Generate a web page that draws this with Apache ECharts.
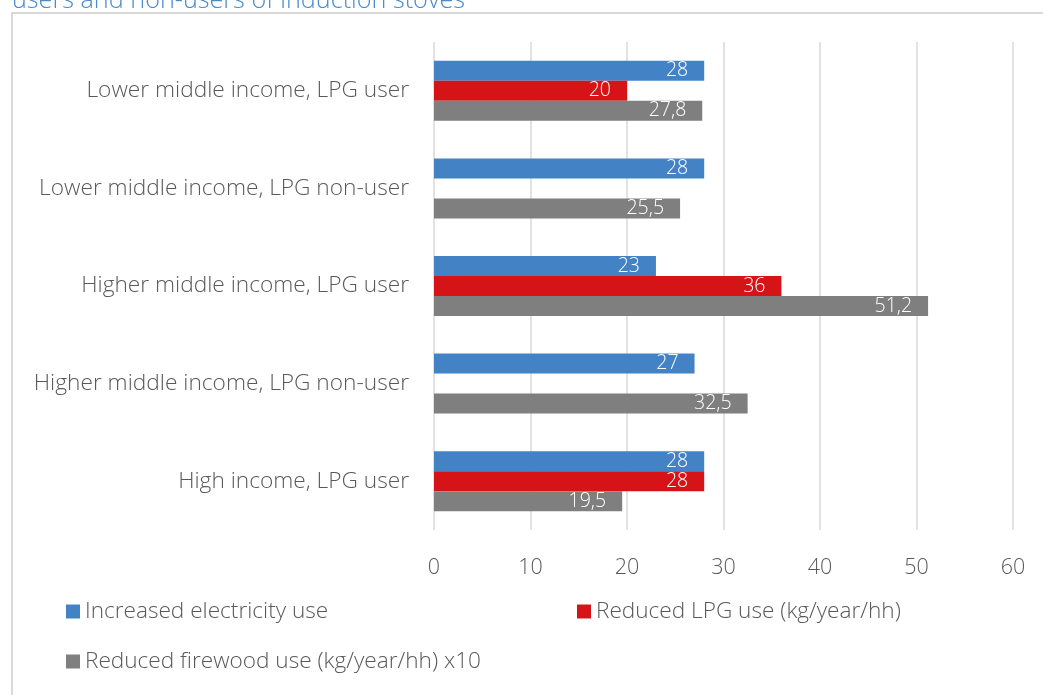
<!DOCTYPE html>
<html>
<head>
<meta charset="utf-8">
<script src="https://cdn.jsdelivr.net/npm/echarts@6/dist/echarts.min.js"></script>
<style>
html,body{margin:0;padding:0;background:#fff;}
#chart{width:1043px;height:695px;}
</style>
</head>
<body>
<div id="chart"></div>
<script>
var titleText = 'users and non-users of induction stoves';
var categories = [
  'Lower middle income, LPG user',
  'Lower middle income, LPG non-user',
  'Higher middle income, LPG user',
  'Higher middle income, LPG non-user',
  'High income, LPG user'
];
var seriesNames = [
  'Increased electricity use',
  'Reduced LPG use (kg/year/hh)',
  'Reduced firewood use (kg/year/hh) x10'
];
var electricity = [28, 28, 23, 27, 28];
var lpg = [20, null, 36, null, 28];
var firewood = [27.8, 25.5, 51.2, 32.5, 19.5];
var xTicks = [0, 60, 10];

var FONT = '"Open Sans", "Segoe UI", sans-serif';
var TXT = '#595959';
var colors = ['#4383c5', '#d61317', '#7f7f7f'];

function fmt(p) { return String(p.value).replace('.', ','); }

function makeSeries(name, data, color) {
  return {
    name: name,
    type: 'bar',
    data: data,
    barWidth: 20,
    barGap: '0%',
    itemStyle: { color: color },
    label: {
      show: true,
      position: 'insideRight',
      distance: 16,
      color: '#fff',
      fontFamily: FONT,
      fontWeight: 300,
      fontSize: 19.5,
      formatter: fmt
    }
  };
}

var legendText = { fontSize: 22.6, color: TXT, fontFamily: FONT, fontWeight: 300 };

var chart = echarts.init(document.getElementById('chart'));
chart.setOption({
  animation: false,
  color: colors,
  textStyle: { fontFamily: FONT },
  graphic: [
    {
      type: 'rect',
      shape: { x: 12, y: 13, width: 1100, height: 800 },
      style: { fill: 'none', stroke: '#d9d9d9', lineWidth: 2 },
      silent: true
    },
    {
      type: 'text',
      x: 12, y: 13,
      style: {
        text: titleText,
        fill: '#4a8bcb',
        font: '300 25.2px ' + FONT,
        verticalAlign: 'bottom'
      },
      silent: true
    }
  ],
  legend: [
    {
      data: [seriesNames[0]], left: 66, top: 600, icon: 'rect', padding: 0,
      itemWidth: 14, itemHeight: 14, textStyle: legendText
    },
    {
      data: [seriesNames[1]], left: 577, top: 600, icon: 'rect', padding: 0,
      itemWidth: 14, itemHeight: 14, textStyle: legendText
    },
    {
      data: [seriesNames[2]], left: 66, top: 650, icon: 'rect', padding: 0,
      itemWidth: 14, itemHeight: 14, textStyle: legendText
    }
  ],
  grid: { left: 434, right: 30, top: 42, bottom: 165, containLabel: false },
  xAxis: {
    type: 'value',
    min: xTicks[0], max: xTicks[1], interval: xTicks[2],
    axisLine: { show: false },
    axisTick: { show: false },
    splitLine: { lineStyle: { color: '#d9d9d9', width: 1.5 } },
    axisLabel: { fontSize: 21.5, color: TXT, margin: 27, fontFamily: FONT, fontWeight: 300 }
  },
  yAxis: {
    type: 'category',
    data: categories,
    inverse: true,
    axisLine: { show: false },
    axisTick: { show: false },
    axisLabel: { fontSize: 22.7, color: TXT, margin: 25, fontFamily: FONT, fontWeight: 300, padding: [4, 0, 0, 0] }
  },
  series: [
    makeSeries(seriesNames[0], electricity, colors[0]),
    makeSeries(seriesNames[1], lpg, colors[1]),
    makeSeries(seriesNames[2], firewood, colors[2])
  ]
});
</script>
</body>
</html>
